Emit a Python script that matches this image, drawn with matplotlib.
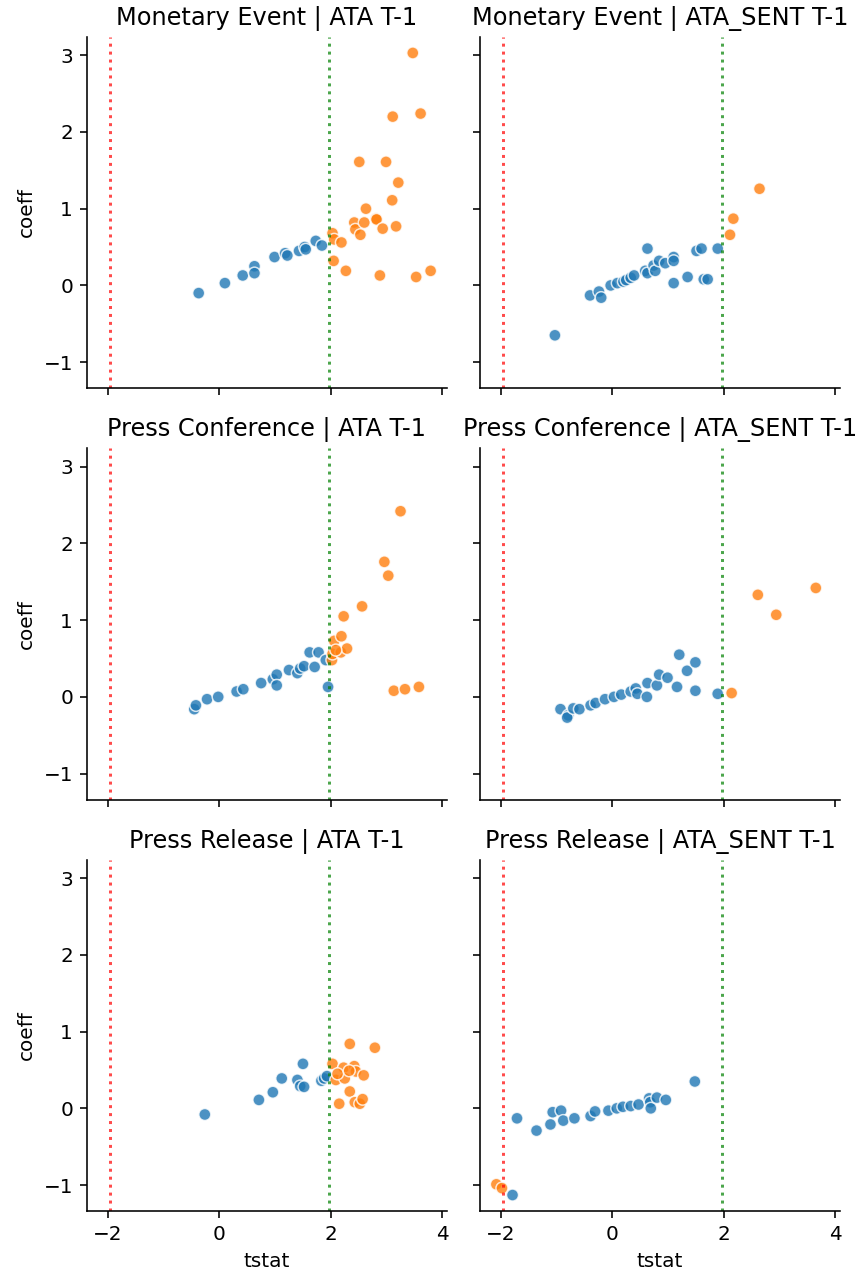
import matplotlib
matplotlib.use("Agg")
import matplotlib.pyplot as plt
import numpy as np

events = ["Monetary Event", "Press Conference", "Press Release"]
models = ["ATA T-1", "ATA_SENT T-1"]

# tstat / coeff per facet
me_ata_tstat = [-0.37, 0.10, 0.42, 0.63, 0.63, 0.99, 1.18, 1.22, 1.43, 1.53, 1.55, 1.73, 1.84,
                2.03, 2.06, 2.19, 2.05, 2.27, 2.42, 2.44, 2.53, 2.60, 2.63, 2.81, 2.82, 2.51,
                2.99, 2.93, 2.88, 3.17, 3.10, 3.21, 3.11, 3.61, 3.47, 3.53, 3.79]
me_ata_coeff = [-0.10, 0.03, 0.13, 0.25, 0.16, 0.37, 0.42, 0.39, 0.45, 0.50, 0.47, 0.58, 0.52,
                0.68, 0.60, 0.56, 0.32, 0.19, 0.82, 0.73, 0.66, 0.82, 1.00, 0.87, 0.86, 1.61,
                1.61, 0.74, 0.13, 0.77, 1.11, 1.34, 2.20, 2.24, 3.03, 0.11, 0.19]

me_sent_tstat = [-1.03, -0.40, -0.24, -0.20, -0.03, 0.09, 0.20, 0.25, 0.33, 0.39, 0.59, 0.63,
                 0.63, 0.74, 0.77, 0.84, 0.95, 1.10, 1.10, 1.10, 1.35, 1.51, 1.60, 1.64, 1.71,
                 1.89, 2.11, 2.17, 2.64]
me_sent_coeff = [-0.65, -0.13, -0.08, -0.16, 0.00, 0.03, 0.05, 0.07, 0.10, 0.13, 0.19, 0.16,
                 0.48, 0.26, 0.19, 0.32, 0.29, 0.37, 0.32, 0.03, 0.11, 0.45, 0.48, 0.08, 0.08,
                 0.48, 0.66, 0.87, 1.26]

pc_ata_tstat = [-0.45, -0.42, -0.22, -0.02, 0.31, 0.43, 0.75, 0.96, 1.03, 1.03, 1.25, 1.40,
                1.45, 1.52, 1.71, 1.62, 1.78, 1.91, 1.95, 2.02, 2.03, 2.06, 2.19, 2.18, 2.29,
                2.09, 2.23, 2.56, 2.96, 3.03, 3.25, 3.13, 3.33, 3.58]
pc_ata_coeff = [-0.16, -0.11, -0.03, 0.00, 0.07, 0.10, 0.18, 0.23, 0.29, 0.15, 0.35, 0.31,
                0.37, 0.40, 0.39, 0.58, 0.58, 0.48, 0.13, 0.48, 0.56, 0.73, 0.79, 0.58, 0.63,
                0.61, 1.05, 1.18, 1.76, 1.58, 2.42, 0.08, 0.10, 0.13]

pc_sent_tstat = [-0.93, -0.79, -0.81, -0.70, -0.59, -0.39, -0.30, -0.13, 0.03, 0.16, 0.33,
                 0.42, 0.45, 0.63, 0.62, 0.80, 0.84, 0.99, 1.16, 1.20, 1.34, 1.49, 1.49, 1.89,
                 2.14, 2.61, 2.94, 3.65]
pc_sent_coeff = [-0.16, -0.24, -0.27, -0.15, -0.16, -0.11, -0.08, -0.03, 0.00, 0.03, 0.07,
                 0.11, 0.04, 0.18, 0.00, 0.15, 0.29, 0.25, 0.13, 0.55, 0.34, 0.45, 0.08, 0.04,
                 0.05, 1.33, 1.07, 1.42]

pr_ata_tstat = [-0.26, 0.71, 0.96, 1.12, 1.40, 1.45, 1.52, 1.50, 1.83, 1.88, 1.93, 2.03, 2.09,
                2.15, 2.23, 2.25, 2.34, 2.34, 2.42, 2.45, 2.43, 2.52, 2.57, 2.59, 2.79, 2.12, 2.33]
pr_ata_coeff = [-0.08, 0.11, 0.21, 0.39, 0.37, 0.29, 0.28, 0.58, 0.36, 0.39, 0.42, 0.58, 0.37,
                0.06, 0.53, 0.39, 0.84, 0.22, 0.55, 0.48, 0.08, 0.06, 0.12, 0.43, 0.79, 0.45, 0.49]

pr_sent_tstat = [-2.08, -1.98, -1.79, -1.71, -1.36, -1.11, -1.07, -0.92, -0.88, -0.68, -0.39,
                 -0.31, -0.07, 0.08, 0.19, 0.33, 0.47, 0.66, 0.68, 0.69, 0.80, 0.96, 1.48]
pr_sent_coeff = [-0.99, -1.04, -1.13, -0.13, -0.29, -0.21, -0.05, -0.03, -0.16, -0.13, -0.10,
                 -0.04, -0.03, 0.00, 0.02, 0.03, 0.05, 0.13, 0.08, 0.00, 0.14, 0.11, 0.35]

panels = [
    [(me_ata_tstat, me_ata_coeff), (me_sent_tstat, me_sent_coeff)],
    [(pc_ata_tstat, pc_ata_coeff), (pc_sent_tstat, pc_sent_coeff)],
    [(pr_ata_tstat, pr_ata_coeff), (pr_sent_tstat, pr_sent_coeff)],
]

crit = 1.96

fig, axes = plt.subplots(3, 2, figsize=(862 / 144, 1276 / 144), dpi=144,
                         sharex=True, sharey=True)
fig.subplots_adjust(left=87 / 862, right=840 / 862, top=1 - 37 / 1276,
                    bottom=1 - 1211 / 1276, wspace=0.0917, hspace=0.172)

for i, event in enumerate(events):
    for j, model in enumerate(models):
        ax = axes[i, j]
        tstat = np.array(panels[i][j][0])
        coeff = np.array(panels[i][j][1])
        colors = np.where(np.abs(tstat) > crit, "tab:orange", "tab:blue")
        ax.scatter(tstat, coeff, c=colors, s=36, alpha=0.8,
                   edgecolors="white", linewidths=0.75)
        ax.axvline(-crit, color="red", linestyle=":", alpha=0.7)
        ax.axvline(crit, color="green", linestyle=":", alpha=0.7)
        ax.set_title(f"{event} | {model}")
        ax.spines["top"].set_visible(False)
        ax.spines["right"].set_visible(False)
        if j == 0:
            ax.set_ylabel("coeff")
        if i == 2:
            ax.set_xlabel("tstat")

ax.set_yticks([-1, 0, 1, 2, 3])
ax.set_xticks([-2, 0, 2, 4])

fig.savefig("out.png", dpi=144)
